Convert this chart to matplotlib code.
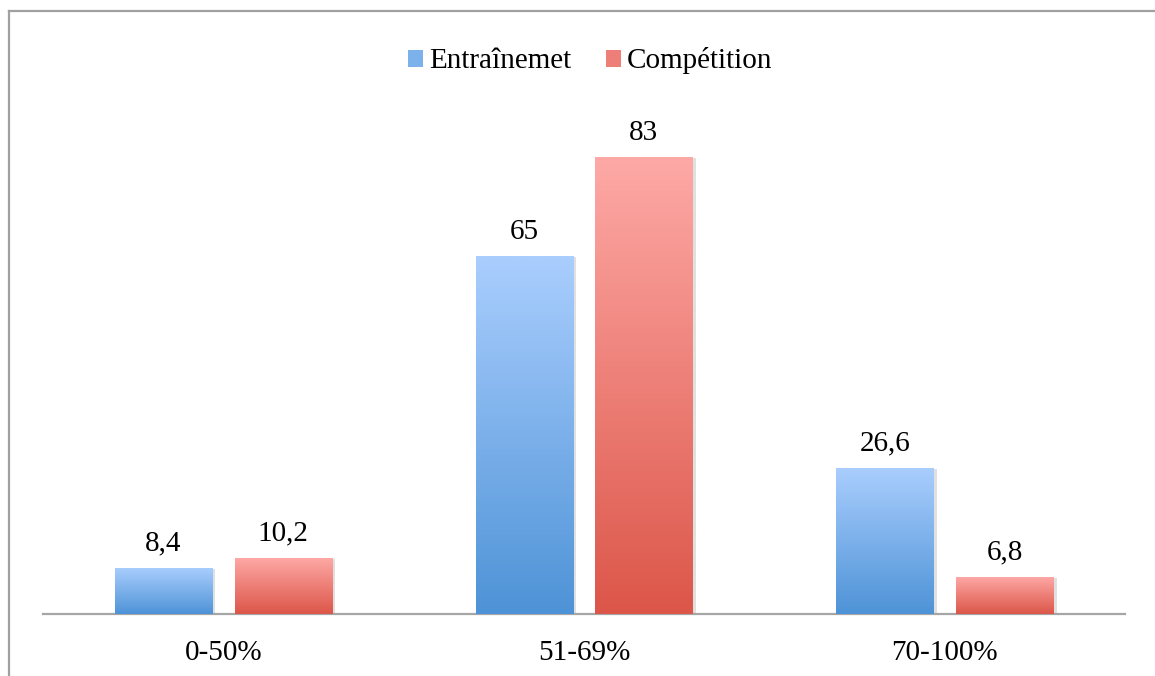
import numpy as np
import matplotlib
matplotlib.use('Agg')
import matplotlib.pyplot as plt
from matplotlib.patches import Patch
from matplotlib.lines import Line2D
import matplotlib.patheffects as pe
from matplotlib.colors import LinearSegmentedColormap

plt.rcParams['font.family'] = ['Liberation Serif', 'DejaVu Serif']

categories = ['0-50%', '51-69%', '70-100%']
entrainement = [8.4, 65, 26.6]
competition = [10.2, 83, 6.8]
labels_ent = ['8,4', '65', '26,6']
labels_comp = ['10,2', '83', '6,8']
series_names = ['Entraînemet', 'Compétition']

blue_top, blue_bot = '#aacefe', '#4e93d7'
red_top, red_bot = '#fea9a6', '#dc5649'

W, H = 1155, 676
fig = plt.figure(figsize=(W / 100, H / 100), dpi=100)
ymax = 90
base_px, top83_px = 614, 157
scale = (base_px - top83_px) / 83.0
top_px = base_px - ymax * scale
ax = fig.add_axes([43 / W, (H - base_px) / H, (1125 - 43) / W, (base_px - top_px) / H])

x = np.arange(len(categories))
bw = 0.269
off = 0.166
fs = 21


def gradient_bars(bars, c_top, c_bot):
    cmap = LinearSegmentedColormap.from_list('g', [c_bot, c_top])
    grad = np.linspace(0, 1, 256).reshape(-1, 1)
    for r in bars:
        x0, y0 = r.get_x(), r.get_y()
        w, h = r.get_width(), r.get_height()
        im = ax.imshow(grad, cmap=cmap, aspect='auto', origin='lower',
                       extent=[x0, x0 + w, y0, y0 + h], zorder=3)
        im.set_clip_path(r)


shadow = [pe.SimplePatchShadow(offset=(2.5, -1), shadow_rgbFace='#000000', alpha=0.12)]
b1 = ax.bar(x - off, entrainement, bw, facecolor='white', edgecolor='none', zorder=2,
            path_effects=shadow)
b2 = ax.bar(x + off, competition, bw, facecolor='white', edgecolor='none', zorder=2,
            path_effects=shadow)
gradient_bars(b1, blue_top, blue_bot)
gradient_bars(b2, red_top, red_bot)

for r, t in zip(b1, labels_ent):
    ax.text(r.get_x() + r.get_width() / 2, r.get_height() + 4.4, t,
            ha='center', va='center', fontsize=fs)
for r, t in zip(b2, labels_comp):
    ax.text(r.get_x() + r.get_width() / 2, r.get_height() + 4.4, t,
            ha='center', va='center', fontsize=fs)

ax.set_xlim(-0.5, 2.5)
ax.set_ylim(0, ymax)
ax.set_xticks(x)
ax.set_xticklabels(categories, fontsize=fs)
ax.tick_params(axis='x', length=0, pad=19)
ax.set_yticks([])
for s in ['top', 'right', 'left']:
    ax.spines[s].set_visible(False)
ax.spines['bottom'].set_color('#a6a6a6')
ax.spines['bottom'].set_linewidth(1.6)

handles = [Patch(facecolor='#7cb1ec', edgecolor='none'),
           Patch(facecolor='#ee7f78', edgecolor='none')]
fig.legend(handles, series_names, loc='center', bbox_to_anchor=(590 / W, 1 - 61 / H),
           ncol=2, frameon=False, fontsize=fs, handlelength=0.52, handleheight=0.52,
           handletextpad=0.2, columnspacing=1.2)

# outer frame (left and top edges)
fig.add_artist(Line2D([8.5 / W, 8.5 / W], [0, 1 - 10.5 / H], transform=fig.transFigure,
                      color='#a0a0a0', lw=1.6))
fig.add_artist(Line2D([8.5 / W, 1], [1 - 10.5 / H, 1 - 10.5 / H], transform=fig.transFigure,
                      color='#a0a0a0', lw=1.6))

fig.savefig('out.png', dpi=100)
